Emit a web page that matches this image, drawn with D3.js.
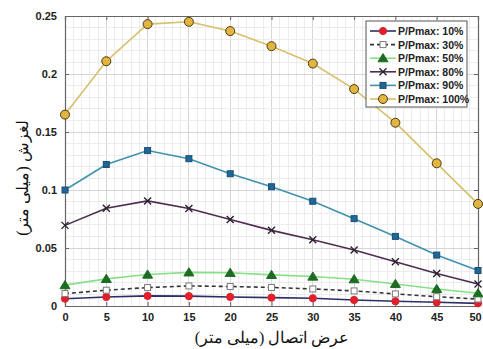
<!DOCTYPE html>
<html><head><meta charset="utf-8">
<script src="https://cdn.jsdelivr.net/npm/d3@7"></script>
<style>body{margin:0;background:#fff}svg{display:block}</style>
</head><body><svg id="c" width="483" height="349"></svg>
<script>
const xValues = [0,5,10,15,20,25,30,35,40,45,50];
const seriesNames = ["P/Pmax: 10%","P/Pmax: 30%","P/Pmax: 50%","P/Pmax: 80%","P/Pmax: 90%","P/Pmax: 100%"];
const s10  = [0.0063,0.0078,0.0087,0.0085,0.0078,0.0072,0.0067,0.0052,0.0041,0.0032,0.0023];
const s30  = [0.0107,0.0136,0.0159,0.0173,0.0168,0.0160,0.0147,0.0130,0.0104,0.0080,0.0060];
const s50  = [0.0180,0.0234,0.0271,0.0290,0.0286,0.0268,0.0254,0.0231,0.0190,0.0147,0.0110];
const s80  = [0.0695,0.0843,0.0906,0.0840,0.0745,0.0652,0.0571,0.0482,0.0381,0.0280,0.0190];
const s90  = [0.1000,0.1220,0.1340,0.1270,0.1140,0.1028,0.0903,0.0753,0.0600,0.0439,0.0306];
const s100 = [0.1650,0.2110,0.2430,0.2450,0.2370,0.2240,0.2090,0.1870,0.1580,0.1230,0.0880];
const xTicks = [0,5,10,15,20,25,30,35,40,45,50];
const yTicks = [0,0.05,0.1,0.15,0.2,0.25];
const xLabel = "عرض اتصال (میلی متر)";
const yLabel = "لغزش (میلی متر)";

const allSeries = [s10,s30,s50,s80,s90,s100];
const styles = [
  {line:"#2e2e66", dash:null, marker:"circle", fill:"#e0202a", stroke:"#e0202a", size:3.6},
  {line:"#333333", dash:"4,3", marker:"square", fill:"#ffffff", stroke:"#7a7a7a", size:6},
  {line:"#86e086", dash:null, marker:"triangle", fill:"#1e6b22", stroke:"#1e6b22", size:8},
  {line:"#4e2c50", dash:null, marker:"x", fill:"none", stroke:"#2a2030", size:7},
  {line:"#3f92ad", dash:null, marker:"square", fill:"#1f6699", stroke:"#1a4f75", size:6},
  {line:"#d8bf6a", dash:null, marker:"circle", fill:"#e2b440", stroke:"#4a3a10", size:4.5}
];

const svg = d3.select("#c");
const L=65, R=478, T=16, B=306;
const x = d3.scaleLinear().domain([0,50]).range([L,R]);
const y = d3.scaleLinear().domain([0,0.25]).range([B,T]);

// grid
const g = svg.append("g");
d3.range(0,51,1).forEach(v=>{
  g.append("line").attr("x1",x(v)).attr("x2",x(v)).attr("y1",T).attr("y2",B)
   .attr("stroke", v%5===0 ? "#d6d6d6" : "#ececec").attr("stroke-width",1).attr("shape-rendering","crispEdges");
});
d3.range(0,26,1).forEach(i=>{
  const v=i/100;
  g.append("line").attr("x1",L).attr("x2",R).attr("y1",y(v)).attr("y2",y(v))
   .attr("stroke", i%5===0 ? "#d6d6d6" : "#ececec").attr("stroke-width",1).attr("shape-rendering","crispEdges");
});

// axes
const xAxis = d3.axisBottom(x).tickValues(xTicks).tickSize(-4).tickPadding(7).tickFormat(d3.format("d"));
const yAxis = d3.axisLeft(y).tickValues(yTicks).tickSize(-4).tickPadding(8).tickFormat(d=>d===0?"0":String(+d.toFixed(2)));
const xa = svg.append("g").attr("transform",`translate(0,${B})`).call(xAxis);
const ya = svg.append("g").attr("transform",`translate(${L},0)`).call(yAxis);
const xt = svg.append("g").attr("transform",`translate(0,${T})`).call(d3.axisTop(x).tickValues(xTicks).tickSize(-4).tickFormat(""));
const yr = svg.append("g").attr("transform",`translate(${R},0)`).call(d3.axisRight(y).tickValues(yTicks).tickSize(-4).tickFormat(""));
[xa,ya,xt,yr].forEach(a=>{
  a.select(".domain").attr("stroke","#666").attr("stroke-width",1.2);
  a.selectAll(".tick line").attr("stroke","#666");
  a.selectAll("text").attr("font-family","Arial, 'Liberation Sans', sans-serif").attr("font-weight","bold").attr("font-size","11px").attr("fill","#222");
});
xa.selectAll(".tick text").filter(d=>d===50).attr("dx","-3");

function drawMarker(sel, st, cx, cy){
  const s=st.size;
  if(st.marker==="circle"){
    sel.append("circle").attr("cx",cx).attr("cy",cy).attr("r",s).attr("fill",st.fill).attr("stroke",st.stroke).attr("stroke-width",1);
  } else if(st.marker==="square"){
    sel.append("rect").attr("x",cx-s/2).attr("y",cy-s/2).attr("width",s).attr("height",s).attr("fill",st.fill).attr("stroke",st.stroke).attr("stroke-width",1);
  } else if(st.marker==="triangle"){
    const h=s*0.9;
    sel.append("path").attr("d",`M${cx},${cy-h/2-1}L${cx+s/2+1},${cy+h/2}L${cx-s/2-1},${cy+h/2}Z`).attr("fill",st.fill).attr("stroke",st.stroke);
  } else if(st.marker==="x"){
    const h=s/2;
    sel.append("path").attr("d",`M${cx-h},${cy-h}L${cx+h},${cy+h}M${cx-h},${cy+h}L${cx+h},${cy-h}`).attr("stroke",st.stroke).attr("stroke-width",1.4).attr("fill","none");
  }
}

const line = d3.line().x((d,i)=>x(xValues[i])).y(d=>y(d));
allSeries.forEach((data,k)=>{
  const st=styles[k];
  const gg=svg.append("g");
  gg.append("path").datum(data).attr("d",line).attr("fill","none").attr("stroke",st.line).attr("stroke-width",1.6).attr("stroke-dasharray",st.dash);
  data.forEach((d,i)=>drawMarker(gg,st,x(xValues[i]),y(d)));
});

// legend
const lg = svg.append("g");
lg.append("rect").attr("x",366).attr("y",21).attr("width",101).attr("height",86).attr("fill","#fff").attr("stroke","#555").attr("stroke-width",1);
seriesNames.forEach((n,k)=>{
  const st=styles[k];
  const yy=31+k*13.6;
  lg.append("line").attr("x1",370).attr("x2",396).attr("y1",yy).attr("y2",yy).attr("stroke",st.line).attr("stroke-width",1.6).attr("stroke-dasharray",st.dash);
  drawMarker(lg,st,383,yy);
  lg.append("text").attr("x",398).attr("y",yy+4).text(n).attr("font-family","Arial, 'Liberation Sans', sans-serif").attr("font-weight","bold").attr("font-size","10.5px").attr("fill","#222");
});

// axis labels
svg.append("text").attr("x",272).attr("y",343).attr("text-anchor","middle").attr("direction","rtl")
  .attr("font-family","'Times New Roman','Liberation Serif','DejaVu Serif',serif").attr("font-size","16px").attr("fill","#111").text(xLabel);
svg.append("text").attr("transform","translate(28,178) rotate(-90)").attr("text-anchor","middle").attr("direction","rtl")
  .attr("font-family","'Times New Roman','Liberation Serif','DejaVu Serif',serif").attr("font-size","16px").attr("fill","#111").text(yLabel);
</script></body></html>
